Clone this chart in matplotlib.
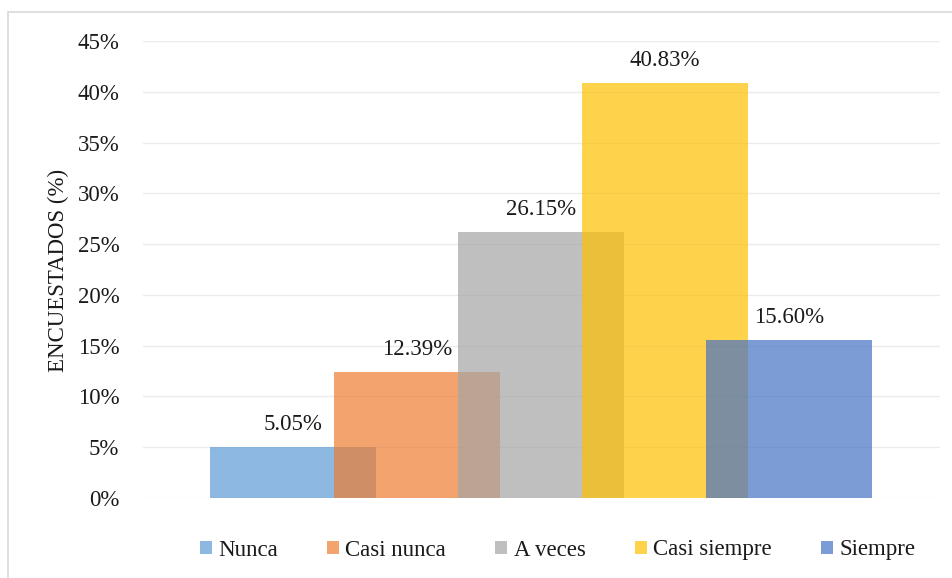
import matplotlib
matplotlib.use("Agg")
import matplotlib.pyplot as plt
from matplotlib.patches import Rectangle
from matplotlib.ticker import FuncFormatter
import numpy as np

plt.rcParams['font.family'] = ['Liberation Serif', 'DejaVu Serif']

categorias = ["Nunca", "Casi nunca", "A veces", "Casi siempre", "Siempre"]
porcentajes = [5.05, 12.39, 26.15, 40.83, 15.60]
colores = ["#5B9BD5", "#ED7D31", "#A5A5A5", "#FFC000", "#4472C4"]

fs = 16.5

fig = plt.figure(figsize=(9.53, 5.78), dpi=100)
ax = fig.add_axes([0.150, 0.1384, 0.836, 0.7907])

# barras anchas que se superponen, una por serie
x = np.arange(len(categorias))
ancho = 1.339
for i in range(len(categorias)):
    ax.bar(x[i], porcentajes[i] / 100, width=ancho, color=colores[i],
           alpha=0.7, linewidth=0, label=categorias[i], zorder=2)
    ax.annotate(f"{porcentajes[i]:.2f}%", (x[i], porcentajes[i] / 100),
                xytext=(0, 12.2), textcoords="offset points",
                ha="center", va="baseline", fontsize=fs, color="#1a1a1a")

ax.set_xlim(2 - 3.214, 2 + 3.214)
ax.set_ylim(0, 0.45)
ax.set_yticks(np.arange(0, 0.451, 0.05))
ax.yaxis.set_major_formatter(FuncFormatter(lambda v, p: f"{v * 100:.0f}%"))
ax.tick_params(axis="y", length=0, pad=17, labelsize=fs, labelcolor="#1a1a1a")
ax.set_xticks([])
ax.grid(axis="y", color="#EBEBEB", linewidth=1.0, zorder=0)
for s in ax.spines.values():
    s.set_visible(False)

fig.text(58 / 953, 1 - 270 / 578, "ENCUESTADOS (%)", rotation=90,
         ha="center", va="center", fontsize=fs, color="#1a1a1a")

leg = fig.legend(loc="center", bbox_to_anchor=(557.5 / 953, 1 - 550 / 578),
                 ncol=5, frameon=False, fontsize=fs, handlelength=0.52,
                 handleheight=0.52, handletextpad=0.28, columnspacing=2.15,
                 borderpad=0)
for t in leg.get_texts():
    t.set_color("#1a1a1a")

# marco del área del gráfico
fig.patches.append(Rectangle((8 / 953, -0.05), 1.1, 1 - 12 / 578 + 0.05,
                             transform=fig.transFigure, fill=False,
                             edgecolor="#D9D9D9", linewidth=1.2))

fig.savefig("out.png", dpi=100)
